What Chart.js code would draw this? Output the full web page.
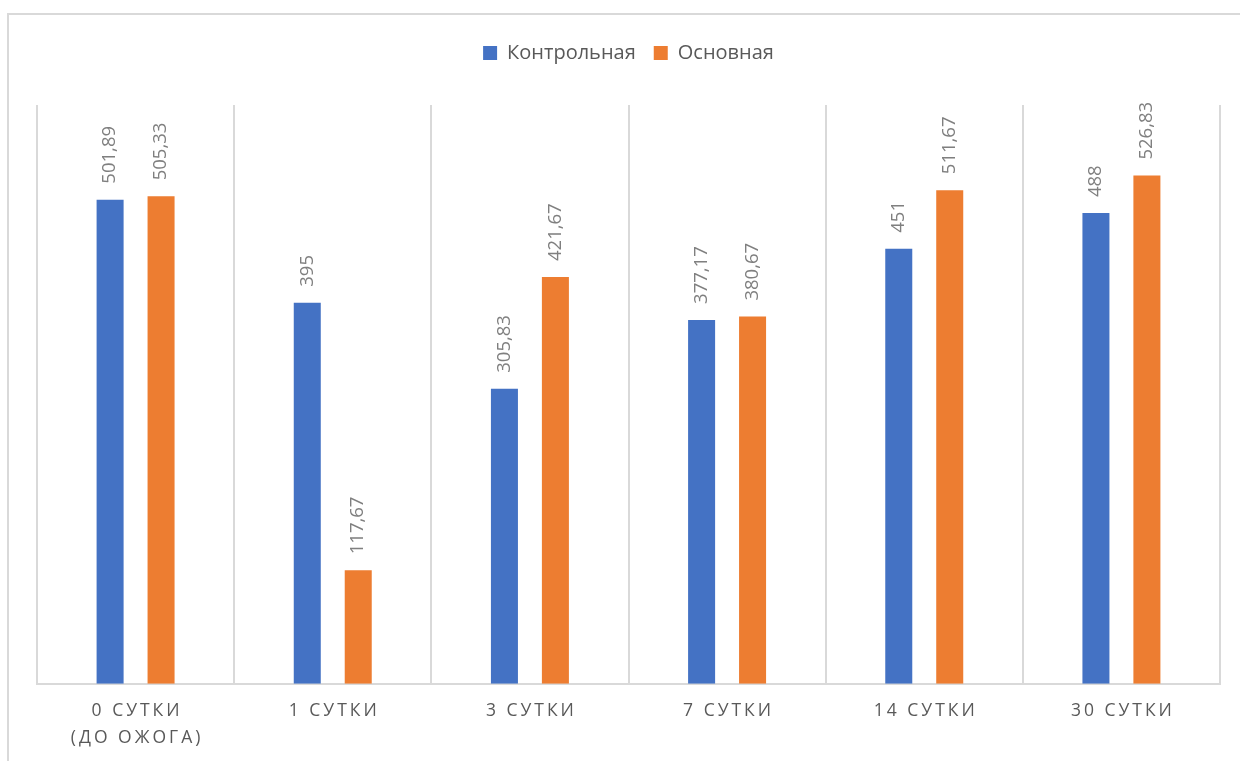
<!DOCTYPE html>
<html>
<head>
<meta charset="utf-8">
<script src="https://cdn.jsdelivr.net/npm/chart.js@4/dist/chart.umd.min.js"></script>
<style>
    html, body { margin: 0; padding: 0; background: #fff; overflow: hidden; }
    #frame { position: absolute; left: 7px; top: 13px; width: 2000px; height: 2000px; border: 2px solid #d9d9d9; }
    #barChart { position: absolute; left: 0; top: 0; }
</style>
</head>
<body>
<div id="frame"></div>
<canvas id="barChart" width="1240" height="766"></canvas>
<script>
// данные графика
const categories = [['0 СУТКИ', '(ДО ОЖОГА)'], '1 СУТКИ', '3 СУТКИ', '7 СУТКИ', '14 СУТКИ', '30 СУТКИ'];
const kontrolnaya = [501.89, 395, 305.83, 377.17, 451, 488];
const osnovnaya = [505.33, 117.67, 421.67, 380.67, 511.67, 526.83];

const textColor = '#595959';
const labelSpacing = 3;

// подписи значений над столбцами (повернутые)
const valueLabels = {
    id: 'valueLabels',
    afterDatasetsDraw(chart) {
        const ctx = chart.ctx;
        ctx.save();
        ctx.font = '18.5px "Open Sans"';
        ctx.fillStyle = '#7f7f7f';
        ctx.textAlign = 'left';
        ctx.textBaseline = 'middle';
        chart.data.datasets.forEach(function (ds, i) {
            chart.getDatasetMeta(i).data.forEach(function (bar, j) {
                const txt = String(ds.data[j]).replace('.', ',');
                ctx.save();
                ctx.translate(bar.x, bar.y - 16);
                ctx.rotate(-Math.PI / 2);
                ctx.fillText(txt, 0, 0);
                ctx.restore();
            });
        });
        ctx.restore();
    }
};

// разрядка букв в подписях оси X
const spacedTicks = {
    id: 'spacedTicks',
    beforeDraw(chart) {
        const xs = chart.scales.x;
        if (xs._spaced) return;
        const orig = xs.drawLabels.bind(xs);
        xs.drawLabels = function (area) {
            const ctx = chart.ctx;
            ctx.save();
            ctx.letterSpacing = labelSpacing + 'px';
            ctx.translate(labelSpacing / 2, 0);
            orig(area);
            ctx.restore();
        };
        xs._spaced = true;
    }
};

// отступ под легендой
const legendMargin = {
    id: 'legendMargin',
    beforeInit(chart) {
        const fit = chart.legend.fit;
        chart.legend.fit = function () {
            fit.bind(chart.legend)();
            this.height += 32;
        };
    }
};

document.addEventListener('DOMContentLoaded', function () {
    try {
        const ctx = document.getElementById('barChart').getContext('2d');
        new Chart(ctx, {
            type: 'bar',
            data: {
                labels: categories,
                datasets: [
                    { label: 'Контрольная', data: kontrolnaya, backgroundColor: '#4472C4' },
                    { label: 'Основная', data: osnovnaya, backgroundColor: '#ED7D31' }
                ]
            },
            options: {
                responsive: false,
                animation: false,
                categoryPercentage: 0.517,
                barPercentage: 0.53,
                layout: { padding: { left: 37, right: 20, top: 25, bottom: 0 } },
                plugins: {
                    legend: {
                        position: 'top',
                        labels: {
                            color: textColor,
                            font: { family: '"Open Sans"', size: 20 },
                            boxWidth: 14,
                            boxHeight: 14,
                            padding: 18
                        }
                    },
                    tooltip: { enabled: false }
                },
                scales: {
                    x: {
                        grid: { color: '#d9d9d9', lineWidth: 2, drawTicks: false },
                        border: { color: '#d9d9d9', width: 2 },
                        ticks: {
                            color: textColor,
                            padding: 14,
                            maxRotation: 0,
                            font: { family: '"Open Sans"', size: 17.5, lineHeight: 1.55 }
                        }
                    },
                    y: {
                        display: false,
                        min: 0,
                        max: 600
                    }
                }
            },
            plugins: [valueLabels, spacedTicks, legendMargin]
        }).draw();
    } catch (error) {
        console.error('Ошибка построения графика:', error);
    }
});
</script>
</body>
</html>
